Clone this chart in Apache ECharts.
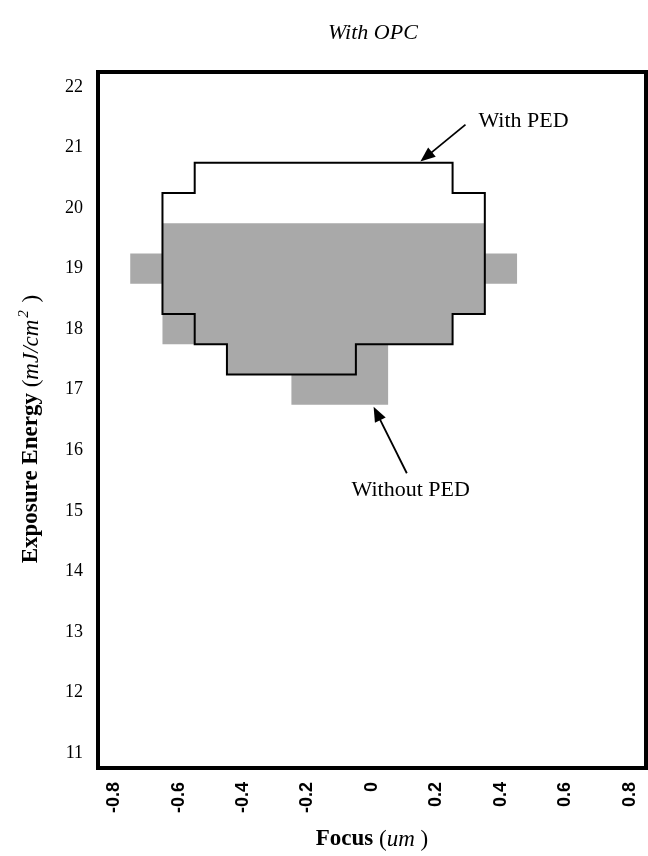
<!DOCTYPE html>
<html>
<head>
<meta charset="utf-8">
<script src="https://cdn.jsdelivr.net/npm/echarts@6/dist/echarts.min.js"></script>
<style>
  html, body { margin: 0; padding: 0; background: #fff; }
  #chart { width: 648px; height: 856px; }
</style>
</head>
<body>
<div id="chart"></div>
<script>
// Process window (focus vs. exposure energy), sampled on a 0.1 um x 0.5 mJ/cm2 grid.
// Each row gives the passing range of focus cells (cell centres) at one energy.

// Without PED: shaded region
const noPedEnergy    = [19.5, 19.0, 18.5, 18.0, 17.5, 17.0];
const noPedFocusFrom = [-0.6, -0.7, -0.6, -0.6, -0.4, -0.2];
const noPedFocusTo   = [ 0.3,  0.4,  0.3,  0.2,  0.0,  0.0];

// With PED: outlined region
const pedEnergy    = [20.5, 20.0, 19.5, 19.0, 18.5, 18.0, 17.5];
const pedFocusFrom = [-0.5, -0.6, -0.6, -0.6, -0.6, -0.5, -0.4];
const pedFocusTo   = [ 0.2,  0.3,  0.3,  0.3,  0.3,  0.2, -0.1];

// Grid cell size
const focusStep = 0.1;
const energyStep = 0.5;

// Tick labels
const focusTicks  = [-0.8, -0.6, -0.4, -0.2, 0, 0.2, 0.4, 0.6, 0.8];
const energyTicks = [11, 12, 13, 14, 15, 16, 17, 18, 19, 20, 21, 22];

// Annotation texts
const noteTexts = ['With PED', 'Without PED'];

// Turn per-row focus ranges into the stepped boundary of the region (data units).
function rowsToBoundary(energy, from, to) {
  const hx = focusStep / 2, hy = energyStep / 2;
  const pts = [];
  for (let i = 0; i < energy.length; i++) {
    pts.push([to[i] + hx, energy[i] + hy]);
    pts.push([to[i] + hx, energy[i] - hy]);
  }
  for (let i = energy.length - 1; i >= 0; i--) {
    pts.push([from[i] - hx, energy[i] - hy]);
    pts.push([from[i] - hx, energy[i] + hy]);
  }
  return pts;
}

const noPedBoundary = rowsToBoundary(noPedEnergy, noPedFocusFrom, noPedFocusTo);
const pedBoundary = rowsToBoundary(pedEnergy, pedFocusFrom, pedFocusTo);

// Annotation placement (data units): label centre, arrow tail, arrow tip
const notePlacement = [
  { text: [0.47, 21.43], from: [0.29, 21.38], to: [0.15, 20.77] },
  { text: [0.12, 15.34], from: [0.108, 15.62], to: [0.005, 16.72] }
];

const serif = '"Liberation Serif", "Times New Roman", serif';
const sans = '"Liberation Sans", Arial, sans-serif';

const chart = echarts.init(document.getElementById('chart'), null, { renderer: 'canvas' });

chart.setOption({
  backgroundColor: '#fff',
  animation: false,
  title: {
    text: 'With OPC',
    left: 323,
    top: 17,
    textStyle: { fontFamily: serif, fontStyle: 'italic', fontWeight: 'normal', fontSize: 22, color: '#000' }
  },
  grid: {
    left: 98, top: 72, right: 2, bottom: 86,
    show: true, borderColor: '#000', borderWidth: 4, backgroundColor: '#fff'
  },
  xAxis: {
    type: 'value',
    min: -0.85, max: 0.85,
    axisLine: { show: false },
    axisTick: { show: false },
    splitLine: { show: false },
    axisLabel: {
      customValues: focusTicks,
      rotate: 90,
      margin: 14,
      fontFamily: sans, fontWeight: 'bold', fontSize: 18, color: '#000',
      formatter: v => String(v)
    },
    name: '{b|Focus }{n|(}{i|um}{n| )}',
    nameLocation: 'middle',
    nameGap: 60,
    nameTextStyle: {
      fontFamily: serif, fontSize: 23, color: '#000',
      rich: {
        b: { fontFamily: serif, fontSize: 23, fontWeight: 'bold', color: '#000' },
        n: { fontFamily: serif, fontSize: 23, color: '#000' },
        i: { fontFamily: serif, fontSize: 23, fontStyle: 'italic', color: '#000' }
      }
    }
  },
  yAxis: {
    type: 'value',
    min: 10.75, max: 22.25,
    axisLine: { show: false },
    axisTick: { show: false },
    splitLine: { show: false },
    axisLabel: {
      customValues: energyTicks,
      margin: 15,
      padding: [6, 0, 0, 0],
      fontFamily: serif, fontSize: 18, color: '#000'
    },
    name: '{b|Exposure Energy }{n|(}{i|mJ/cm}{sup|2}{n| )}',
    nameLocation: 'middle',
    nameGap: 52,
    nameTextStyle: {
      fontFamily: serif, fontSize: 23, color: '#000',
      padding: [0, 18, 0, 0],
      rich: {
        b: { fontFamily: serif, fontSize: 23, fontWeight: 'bold', color: '#000' },
        n: { fontFamily: serif, fontSize: 23, color: '#000' },
        i: { fontFamily: serif, fontSize: 23, fontStyle: 'italic', color: '#000' },
        sup: { fontFamily: serif, fontSize: 15, fontStyle: 'italic', color: '#000', padding: [0, 2, 14, 2] }
      }
    }
  },
  series: [
    {
      name: 'Without PED',
      type: 'custom',
      data: [0],
      renderItem: function (params, api) {
        return {
          type: 'polygon',
          shape: { points: noPedBoundary.map(p => api.coord(p)) },
          style: { fill: '#a9a9a9', stroke: null }
        };
      },
      z: 2
    },
    {
      name: 'With PED',
      type: 'custom',
      data: [0],
      renderItem: function (params, api) {
        return {
          type: 'polygon',
          shape: { points: pedBoundary.map(p => api.coord(p)) },
          style: { fill: null, stroke: '#000', lineWidth: 2, lineJoin: 'miter' }
        };
      },
      z: 3
    },
    {
      name: 'notes',
      type: 'custom',
      data: noteTexts.map((t, i) => i),
      renderItem: function (params, api) {
        const i = params.dataIndex;
        const place = notePlacement[i];
        const a = api.coord(place.from);
        const b = api.coord(place.to);
        const t = api.coord(place.text);
        const dx = b[0] - a[0], dy = b[1] - a[1];
        const len = Math.sqrt(dx * dx + dy * dy);
        const ux = dx / len, uy = dy / len;
        const headLen = 15, headHalf = 6;
        const base = [b[0] - ux * headLen, b[1] - uy * headLen];
        return {
          type: 'group',
          children: [
            {
              type: 'line',
              shape: { x1: a[0], y1: a[1], x2: base[0] + ux * 2, y2: base[1] + uy * 2 },
              style: { stroke: '#000', lineWidth: 1.8 }
            },
            {
              type: 'polygon',
              shape: { points: [b, [base[0] - uy * headHalf, base[1] + ux * headHalf], [base[0] + uy * headHalf, base[1] - ux * headHalf]] },
              style: { fill: '#000' }
            },
            {
              type: 'text',
              x: t[0], y: t[1],
              style: {
                text: noteTexts[i],
                fontFamily: serif, fontSize: 22, fill: '#000',
                align: 'center', verticalAlign: 'middle'
              }
            }
          ]
        };
      },
      z: 4
    }
  ]
});
</script>
</body>
</html>
